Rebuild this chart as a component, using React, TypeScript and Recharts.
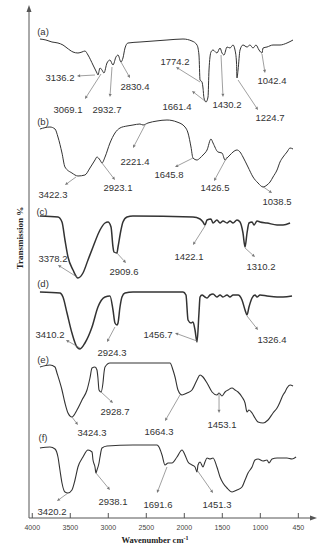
import React from 'react';
import { LineChart, Line, XAxis, YAxis, ReferenceLine, ReferenceDot } from 'recharts';

// FTIR spectra, [wavenumber cm-1, transmission (stacked, arbitrary units)]
const SPEC_A: [number, number][] = [
  [3899, 479], [3820, 478], [3741, 476], [3662, 475], [3596, 473], [3543, 470], [3464, 466],
  [3399, 465], [3346, 466], [3307, 467], [3267, 463], [3201, 453], [3149, 445], [3136, 443],
  [3109, 450], [3083, 448], [3057, 445], [3017, 455], [2978, 458], [2938, 453], [2899, 461],
  [2872, 463], [2833, 456], [2807, 460], [2780, 470], [2741, 475], [2583, 476], [2228, 478],
  [2017, 479], [1899, 477], [1833, 473], [1807, 463], [1793, 438], [1767, 436], [1754, 430],
  [1741, 420], [1714, 416], [1688, 421], [1675, 448], [1649, 466], [1622, 468], [1571, 465],
  [1530, 470], [1504, 465], [1478, 463], [1438, 471], [1399, 470], [1359, 473], [1333, 468],
  [1313, 455], [1307, 440], [1293, 448], [1267, 468], [1228, 473], [1175, 471], [1136, 473],
  [1096, 470], [1057, 473], [1017, 468], [978, 465], [964, 470], [912, 471], [833, 473],
  [741, 473], [649, 475], [570, 478],
];

const SPEC_B: [number, number][] = [
  [3899, 389], [3767, 391], [3701, 389], [3662, 381], [3609, 365], [3570, 351], [3478, 345],
  [3399, 342], [3307, 343], [3241, 350], [3175, 358], [3149, 361], [3109, 358], [3083, 355],
  [3043, 361], [2978, 375], [2912, 385], [2846, 390], [2754, 392], [2675, 393], [2583, 394],
  [2543, 393], [2478, 395], [2359, 397], [2228, 398], [2096, 396], [1991, 391], [1951, 385],
  [1912, 371], [1886, 360], [1833, 358], [1793, 360], [1754, 363], [1701, 368], [1649, 379],
  [1622, 375], [1557, 366], [1504, 365], [1464, 358], [1438, 360], [1399, 363], [1359, 366],
  [1307, 368], [1267, 366], [1228, 361], [1162, 351], [1096, 341], [1030, 335], [964, 331],
  [912, 333], [872, 336], [833, 341], [780, 348], [741, 356], [701, 361], [649, 366],
  [609, 370], [570, 369],
];

const SPEC_C: [number, number][] = [
  [3899, 302], [3662, 301], [3609, 296], [3570, 278], [3530, 261], [3464, 248], [3399, 240],
  [3333, 245], [3267, 258], [3201, 271], [3109, 288], [3043, 295], [3004, 296], [2964, 291],
  [2938, 271], [2925, 266], [2886, 265], [2872, 271], [2833, 288], [2807, 296], [2754, 301],
  [2675, 302], [1886, 301], [1793, 299], [1754, 296], [1728, 293], [1701, 298], [1649, 299],
  [1622, 295], [1571, 298], [1530, 295], [1491, 297], [1438, 295], [1399, 297], [1359, 295],
  [1307, 298], [1267, 296], [1228, 285], [1201, 271], [1175, 285], [1149, 295], [1109, 296],
  [1083, 293], [1043, 297], [1004, 296], [912, 295], [780, 293], [701, 293], [609, 295],
];

const SPEC_D: [number, number][] = [
  [3899, 226], [3636, 225], [3596, 221], [3543, 205], [3478, 185], [3412, 171], [3372, 169],
  [3307, 175], [3214, 191], [3136, 211], [3043, 221], [2978, 222], [2938, 208], [2912, 195],
  [2886, 193], [2872, 195], [2846, 211], [2820, 221], [2780, 225], [2675, 226], [2017, 226],
  [1978, 223], [1951, 198], [1912, 195], [1886, 196], [1859, 188], [1833, 176], [1807, 205],
  [1793, 221], [1767, 223], [1728, 221], [1701, 220], [1662, 223], [1622, 224], [1571, 221],
  [1530, 223], [1491, 221], [1438, 223], [1399, 221], [1359, 223], [1293, 223], [1241, 218],
  [1201, 208], [1175, 203], [1149, 211], [1109, 220], [1070, 223], [1043, 221], [1004, 223],
  [912, 222], [780, 221], [701, 221], [583, 222],
];

const SPEC_E: [number, number][] = [
  [3899, 151], [3767, 153], [3701, 151], [3675, 145], [3609, 128], [3570, 115], [3530, 105],
  [3478, 101], [3412, 108], [3346, 118], [3280, 128], [3241, 140], [3214, 150], [3175, 151],
  [3149, 148], [3136, 140], [3122, 128], [3096, 126], [3070, 135], [3057, 145], [3043, 151],
  [2978, 155], [2886, 155], [2188, 155], [2149, 148], [2122, 141], [2083, 128], [2030, 123],
  [1964, 125], [1899, 128], [1833, 138], [1793, 143], [1754, 141], [1701, 135], [1635, 126],
  [1571, 123], [1543, 125], [1504, 122], [1464, 126], [1425, 128], [1372, 130], [1333, 128],
  [1293, 126], [1241, 121], [1201, 115], [1175, 106], [1149, 108], [1109, 105], [1070, 100],
  [1030, 96], [964, 95], [899, 98], [833, 105], [780, 110], [741, 116], [701, 123], [675, 126],
  [649, 130], [609, 133], [570, 132],
];

const SPEC_F: [number, number][] = [
  [3899, 70], [3767, 71], [3701, 69], [3662, 61], [3636, 48], [3609, 35], [3570, 26], [3530, 25],
  [3478, 28], [3438, 38], [3399, 51], [3333, 61], [3267, 68], [3214, 66], [3201, 58], [3175, 51],
  [3162, 45], [3149, 48], [3122, 55], [3109, 61], [3083, 70], [3017, 72], [2675, 73], [2359, 73],
  [2333, 71], [2293, 63], [2254, 53], [2214, 55], [2162, 55], [2096, 61], [2030, 68], [1991, 63],
  [1951, 56], [1899, 53], [1859, 51], [1833, 46], [1820, 53], [1793, 56], [1754, 51], [1728, 56],
  [1701, 60], [1662, 59], [1622, 60], [1571, 51], [1530, 41], [1491, 35], [1438, 30], [1372, 26],
  [1307, 28], [1241, 31], [1201, 38], [1162, 45], [1109, 51], [1070, 58], [1030, 59], [964, 57],
  [912, 58], [886, 55], [846, 59], [780, 60], [649, 60], [583, 59], [530, 61],
];

const X_TICKS = [4000, 3500, 3000, 2500, 2000, 1500, 1000, 500];
const X_TICK_LABELS = ['4000', '3500', '3000', '2500', '2000', '1500', '1000', '450'];

// label, text x, text y, arrow start x, y, arrow end x, y (data units)
const PEAKS: [string, number, number, number, number, number, number][] = [
  ['3136.2', 3636, 441, 3175, 443, 3412, 442],
  ['3069.1', 3530, 409, 3096, 444, 3307, 419],
  ['2932.7', 3017, 409, 2951, 451, 2978, 421],
  ['2830.4', 2649, 432, 2833, 456, 2714, 440],
  ['1774.2', 2122, 457, 1793, 436, 2109, 451],
  ['1661.4', 2096, 412, 1728, 417, 1899, 427],
  ['1430.2', 1438, 414, 1517, 463, 1491, 421],
  ['1224.7', 872, 401, 1293, 438, 1030, 408],
  ['1042.4', 846, 438, 978, 464, 938, 445],
  ['2221.4', 2649, 357, 2517, 393, 2675, 370],
  ['2923.1', 2872, 331, 3083, 355, 2912, 338],
  ['3422.3', 3728, 324, 3425, 341, 3570, 333],
  ['1645.8', 2201, 344, 1886, 360, 2122, 351],
  ['1426.5', 1596, 331, 1438, 361, 1609, 337],
  ['1038.5', 780, 317, 978, 332, 846, 325],
  ['3378.2', 3728, 260, 3412, 241, 3662, 253],
  ['2909.6', 2793, 247, 2886, 265, 2767, 255],
  ['1422.1', 1938, 262, 1728, 292, 1886, 273],
  ['1310.2', 991, 252, 1201, 270, 1070, 261],
  ['3410.2', 3767, 184, 3372, 170, 3557, 178],
  ['2924.3', 2951, 166, 2912, 191, 3017, 176],
  ['1456.7', 2346, 184, 1833, 177, 2122, 185],
  ['1326.4', 846, 179, 1175, 202, 1030, 188],
  ['2928.7', 2912, 107, 3096, 126, 2938, 115],
  ['3424.3', 3214, 86, 3478, 101, 3399, 93],
  ['1664.3', 2333, 87, 2057, 123, 2254, 97],
  ['1453.1', 1504, 94, 1543, 125, 1543, 105],
  ['3420.2', 3741, 7, 3530, 25, 3675, 17],
  ['2938.1', 2938, 17, 3162, 45, 2978, 28],
  ['1691.6', 2346, 14, 2228, 51, 2359, 25],
  ['1451.3', 1570, 14, 1833, 48, 1622, 25],
];

const toPts = (arr: [number, number][]) => arr.map(([wn, t]) => ({ wn, t }));

const SERIES = [
  { id: 'a', data: toPts(SPEC_A), w: 1 },
  { id: 'b', data: toPts(SPEC_B), w: 1 },
  { id: 'c', data: toPts(SPEC_C), w: 1.5 },
  { id: 'd', data: toPts(SPEC_D), w: 1.5 },
  { id: 'e', data: toPts(SPEC_E), w: 1.1 },
  { id: 'f', data: toPts(SPEC_F), w: 1.1 },
];

const SANS = 'Liberation Sans, Arial, sans-serif';
const SERIF = 'Liberation Serif, Times New Roman, serif';

const renderXTick = (p: any) => {
  const i = X_TICKS.indexOf(p.payload.value);
  return (
    <g>
      <line x1={p.x} x2={p.x} y1={p.y} y2={p.y - 5} stroke="#555" strokeWidth={1} />
      <text x={p.x} y={p.y + 12} textAnchor="middle" fontSize={7} fill="#444" fontFamily={SANS}>
        {X_TICK_LABELS[i]}
      </text>
    </g>
  );
};

const Arrow = (p: any) => {
  const { x1, y1, x2, y2 } = p;
  const a = Math.atan2(y2 - y1, x2 - x1);
  const s = 3.2;
  const w = 1.5;
  const bx = x2 - s * Math.cos(a);
  const by = y2 - s * Math.sin(a);
  const pts = `${x2},${y2} ${bx + w * Math.sin(a)},${by - w * Math.cos(a)} ${bx - w * Math.sin(a)},${by + w * Math.cos(a)}`;
  return (
    <g>
      <line x1={x1} y1={y1} x2={bx} y2={by} stroke="#777" strokeWidth={0.7} />
      <polygon points={pts} fill="#777" />
    </g>
  );
};

const SPEC_LABELS: [string, number, number][] = [
  ['(a)', 43, 31], ['(b)', 43, 121], ['(c)', 42, 211],
  ['(d)', 43, 283], ['(e)', 43, 359], ['(f)', 43, 437],
];

export default function App() {
  return (
    <div style={{ position: 'absolute', left: 0, top: 0, width: 335, height: 550, background: '#fff' }}>
      <LineChart width={335} height={550} margin={{ top: 9, right: 22, bottom: 0, left: 0 }}>
        <XAxis
          dataKey="wn"
          type="number"
          domain={[307, 4043]}
          reversed
          allowDataOverflow
          ticks={X_TICKS}
          interval={0}
          tickSize={0}
          tickMargin={0}
          tickLine={false}
          axisLine={{ stroke: '#555' }}
          height={32}
          tick={renderXTick}
        />
        <YAxis
          type="number"
          domain={[0, 509]}
          allowDataOverflow
          width={29}
          tick={false}
          tickLine={false}
          axisLine={{ stroke: '#555' }}
        />
        {SERIES.map((s) => (
          <Line
            key={s.id}
            data={s.data}
            dataKey="t"
            type="monotone"
            stroke="#333"
            strokeWidth={s.w}
            dot={false}
            activeDot={false}
            isAnimationActive={false}
          />
        ))}
        {PEAKS.map(([lbl, , , ax, ay, bx, by]) => (
          <ReferenceLine
            key={'l' + lbl}
            segment={[{ x: ax, y: ay }, { x: bx, y: by }]}
            shape={Arrow}
          />
        ))}
        {PEAKS.map(([lbl, tx, ty]) => (
          <ReferenceDot
            key={'t' + lbl}
            x={tx}
            y={ty}
            r={0}
            shape={(p: any) => (
              <text
                x={p.cx}
                y={p.cy}
                textAnchor="middle"
                dominantBaseline="central"
                fontSize={9.5}
                fill="#333"
                fontFamily={SANS}
              >
                {lbl}
              </text>
            )}
          />
        ))}
      </LineChart>
      <svg
        width={335}
        height={550}
        style={{ position: 'absolute', left: 0, top: 0, pointerEvents: 'none' }}
      >
        <polygon points="29,5 26.5,12 31.5,12" fill="#555" />
        <polygon points="317,518 310,515.5 310,520.5" fill="#555" />
        {SPEC_LABELS.map(([t, x, y]) => (
          <text key={t} x={x} y={y} textAnchor="middle" dominantBaseline="central" fontSize={9.5} fill="#333" fontFamily={SANS}>
            {t}
          </text>
        ))}
        <text
          x={20}
          y={238}
          transform="rotate(-90 20 238)"
          textAnchor="middle"
          dominantBaseline="central"
          fontSize={9}
          fontWeight="bold"
          fill="#222"
          fontFamily={SERIF}
        >
          Transmission %
        </text>
        <text x={155} y={543} textAnchor="middle" fontSize={8.5} fontWeight="bold" fill="#222" fontFamily={SERIF}>
          Wavenumber cm<tspan fontSize={6} dy={-3}>-1</tspan>
        </text>
      </svg>
    </div>
  );
}
